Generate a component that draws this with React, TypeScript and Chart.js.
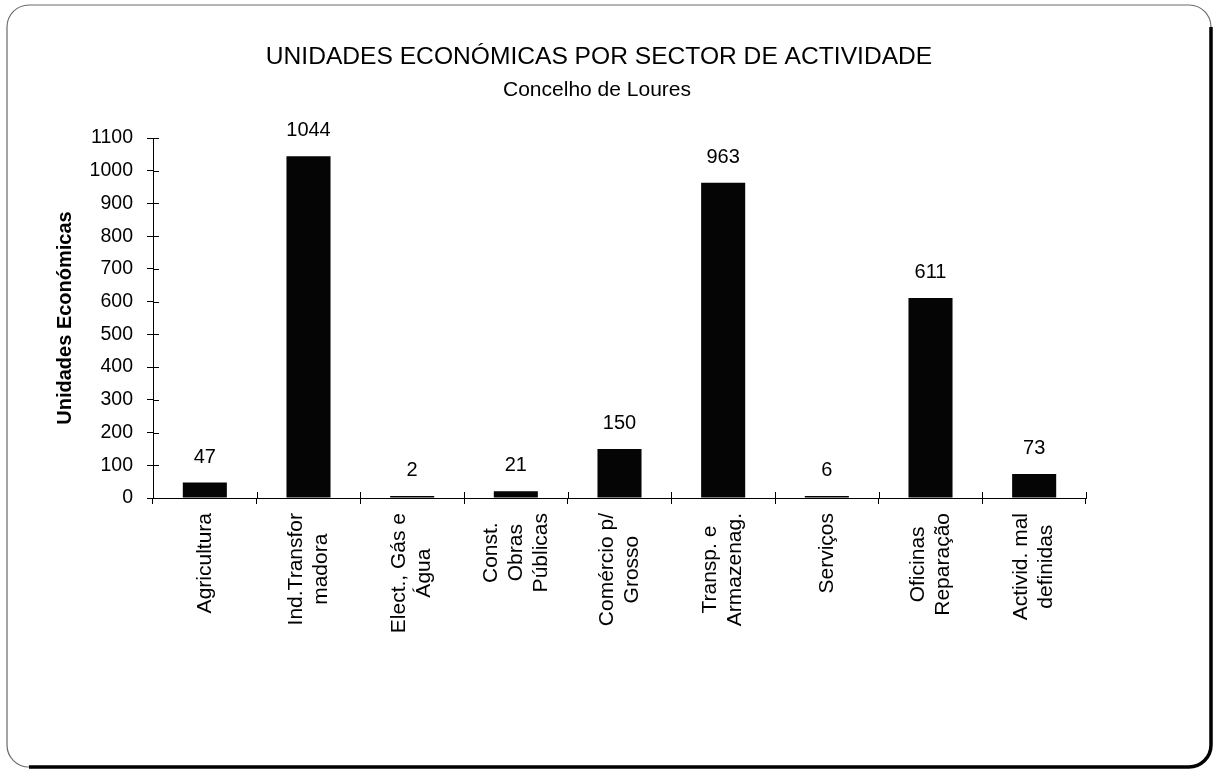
import { useEffect, useRef } from "react";
import { Chart, registerables } from "chart.js";

Chart.register(...registerables);

const categories: string[][] = [
  ["Agricultura"],
  ["Ind.Transfor", "madora"],
  ["Elect., Gás e", "Água"],
  ["Const.", "Obras", "Públicas"],
  ["Comércio p/", "Grosso"],
  ["Transp. e", "Armazenag."],
  ["Serviços"],
  ["Oficinas", "Reparação"],
  ["Activid. mal", "definidas"],
];
const values: number[] = [47, 1044, 2, 21, 150, 963, 6, 611, 73];
const yMin = 0;
const yMax = 1100;
const yStep = 100;
const titleText = "UNIDADES ECONÓMICAS POR SECTOR DE ACTIVIDADE";
const subtitleText = "Concelho de Loures";
const yAxisTitle = "Unidades Económicas";

const FONT = '"Liberation Sans", Arial, Helvetica, sans-serif';

const framePlugin = {
  id: "frame",
  beforeDraw(chart: any) {
    const ctx = chart.ctx;
    const W = chart.width;
    const H = chart.height;
    ctx.save();
    ctx.fillStyle = "#ffffff";
    ctx.fillRect(0, 0, W, H);
    const l = 7, t = 5, r = 1211, b = 767, rad = 22;
    ctx.beginPath();
    ctx.moveTo(l + rad, t);
    ctx.lineTo(r - rad, t);
    ctx.arcTo(r, t, r, t + rad, rad);
    ctx.lineTo(r, b - rad);
    ctx.arcTo(r, b, r - rad, b, rad);
    ctx.lineTo(l + rad, b);
    ctx.arcTo(l, b, l, b - rad, rad);
    ctx.lineTo(l, t + rad);
    ctx.arcTo(l, t, l + rad, t, rad);
    ctx.closePath();
    ctx.lineWidth = 1.2;
    ctx.strokeStyle = "#6a6a6a";
    ctx.stroke();
    ctx.beginPath();
    ctx.moveTo(r, t + rad);
    ctx.lineTo(r, b - rad);
    ctx.arcTo(r, b, r - rad, b, rad);
    ctx.lineTo(l + rad, b);
    ctx.lineWidth = 3.5;
    ctx.strokeStyle = "#000000";
    ctx.stroke();
    ctx.fillStyle = "#000000";
    ctx.textAlign = "center";
    ctx.textBaseline = "alphabetic";
    ctx.font = `24.6px ${FONT}`;
    ctx.fillText(titleText, 599, 64);
    ctx.font = `21px ${FONT}`;
    ctx.fillText(subtitleText, 597, 96);
    ctx.restore();
  },
  afterDraw(chart: any) {
    const ctx = chart.ctx;
    const xs = chart.scales.x;
    const ys = chart.scales.y;
    ctx.save();
    ctx.strokeStyle = "#000000";
    ctx.lineWidth = 1;
    ys.ticks.forEach((tk: any) => {
      const y = Math.round(ys.getPixelForValue(tk.value)) + 0.5;
      ctx.beginPath();
      ctx.moveTo(ys.right, y);
      ctx.lineTo(ys.right + 6, y);
      ctx.stroke();
    });
    const n = chart.data.labels.length;
    for (let i = 0; i <= n; i++) {
      const x = Math.round(xs.getPixelForValue(i - 0.5)) + 0.5;
      ctx.beginPath();
      ctx.moveTo(x, xs.top - 6);
      ctx.lineTo(x, xs.top);
      ctx.stroke();
    }
    ctx.font = `21px ${FONT}`;
    ctx.fillStyle = "#000000";
    ctx.textAlign = "center";
    ctx.textBaseline = "middle";
    const lineH = 25;
    (chart.data.labels as string[][]).forEach((lines, i) => {
      const cx = xs.getPixelForValue(i);
      const maxW = Math.max(...lines.map((s) => ctx.measureText(s).width));
      const along = xs.top + 15 + maxW / 2;
      lines.forEach((s, j) => {
        const off = (j - (lines.length - 1) / 2) * lineH;
        ctx.save();
        ctx.translate(cx + off, along);
        ctx.rotate(-Math.PI / 2);
        ctx.fillText(s, 0, 0);
        ctx.restore();
      });
    });
    const meta = chart.getDatasetMeta(0);
    ctx.font = `20px ${FONT}`;
    ctx.textBaseline = "alphabetic";
    meta.data.forEach((bar: any, i: number) => {
      ctx.fillText(String(chart.data.datasets[0].data[i]), bar.x, bar.y - 20);
    });
    ctx.restore();
  },
};

export default function App() {
  const ref = useRef<HTMLCanvasElement | null>(null);
  useEffect(() => {
    if (!ref.current) return;
    const chart = new Chart(ref.current, {
      type: "bar",
      data: {
        labels: categories,
        datasets: [
          {
            data: values,
            backgroundColor: "#050505",
            borderWidth: 0,
            categoryPercentage: 1,
            barPercentage: 0.425,
            minBarLength: 2,
          },
        ],
      },
      options: {
        responsive: false,
        animation: false,
        devicePixelRatio: 1,
        layout: { padding: { top: 138, right: 132, bottom: 0, left: 40 } },
        plugins: {
          legend: { display: false },
          tooltip: { enabled: false },
          title: { display: false },
        },
        scales: {
          x: {
            type: "category",
            grid: {
              display: true,
              drawOnChartArea: false,
              drawTicks: true,
              tickLength: 6,
              color: "#000000",
              offset: true,
            },
            border: { display: true, color: "#000000", width: 1 },
            ticks: { display: false },
            afterFit: (s: any) => {
              s.height = 274;
            },
          },
          y: {
            min: yMin,
            max: yMax,
            grid: {
              display: true,
              drawOnChartArea: false,
              drawTicks: true,
              tickLength: 6,
              color: "#000000",
            },
            border: { display: true, color: "#000000", width: 1 },
            ticks: {
              stepSize: yStep,
              padding: 14,
              color: "#000000",
              font: { family: FONT, size: 19.5 },
              callback: (v: any) => String(v),
            },
            title: {
              display: true,
              text: yAxisTitle,
              color: "#000000",
              font: { family: FONT, size: 20, weight: "bold" },
              padding: { top: 13, bottom: 0 },
            },
            afterFit: (s: any) => {
              s.width = 113;
            },
          },
        },
      },
      plugins: [framePlugin],
    });
    return () => chart.destroy();
  }, []);
  return (
    <div style={{ position: "absolute", left: 0, top: 0, width: 1218, height: 772 }}>
      <canvas ref={ref} width={1218} height={772} style={{ display: "block" }} />
    </div>
  );
}
